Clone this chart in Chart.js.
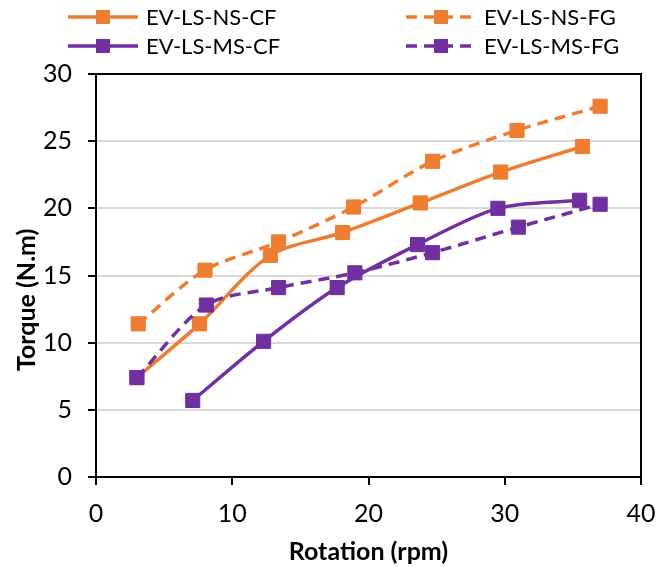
<!DOCTYPE html>
<html lang="en">
<head>
    <meta charset="UTF-8">
    <title>Torque vs Rotation</title>
    <script src="https://cdn.jsdelivr.net/npm/chart.js"></script>
    <style>
        * {
            margin: 0;
            padding: 0;
            box-sizing: border-box;
        }
        body {
            background-color: #ffffff;
            width: 656px;
            height: 567px;
            overflow: hidden;
        }
        .chart-container {
            position: relative;
            width: 656px;
            height: 567px;
        }
    </style>
</head>
<body>
    <div class="chart-container">
        <canvas id="torqueChart"></canvas>
    </div>

    <script>
        // rotation (rpm) and torque (N.m)
        const nsCfRpm = [3.0, 7.6, 12.8, 18.1, 23.8, 29.7, 35.7];
        const nsCfTorque = [7.4, 11.4, 16.5, 18.2, 20.4, 22.7, 24.6];

        const nsFgRpm = [3.1, 8.0, 13.4, 18.9, 24.7, 30.9, 37.0];
        const nsFgTorque = [11.4, 15.4, 17.5, 20.1, 23.5, 25.8, 27.6];

        const msCfRpm = [7.1, 12.3, 17.7, 23.6, 29.5, 35.5];
        const msCfTorque = [5.7, 10.1, 14.1, 17.3, 20.0, 20.6];

        const msFgRpm = [3.0, 8.1, 13.4, 19.0, 24.7, 31.0, 37.0];
        const msFgTorque = [7.4, 12.8, 14.1, 15.2, 16.7, 18.6, 20.3];

        const seriesNames = ['EV-LS-NS-CF', 'EV-LS-NS-FG', 'EV-LS-MS-CF', 'EV-LS-MS-FG'];

        const xTicks = [0, 10, 20, 30, 40];
        const yTicks = [0, 5, 10, 15, 20, 25, 30];

        const ORANGE = '#ED7D31';
        const PURPLE = '#7030A0';
        const FONT = 'Lato, "Open Sans", sans-serif';

        function toPoints(xs, ys) {
            return xs.map((x, i) => ({ x: x, y: ys[i] }));
        }

        function makeSeries(name, xs, ys, color, dashed, order) {
            return {
                label: name,
                data: toPoints(xs, ys),
                borderColor: color,
                backgroundColor: color,
                borderWidth: 3.5,
                borderDash: dashed ? [11, 7] : [],
                tension: 0.3,
                pointStyle: 'rect',
                pointRadius: 10,
                pointHoverRadius: 10,
                pointBackgroundColor: color,
                pointBorderColor: color,
                pointBorderWidth: 1,
                fill: false,
                order: order
            };
        }

        // legend laid out in two fixed columns like the original
        const legendPlugin = {
            id: 'twoColumnLegend',
            afterDraw(chart) {
                const c = chart.ctx;
                const items = chart.data.datasets;
                const cols = [{ x: 68, w: 70 }, { x: 406, w: 70 }];
                const rows = [17, 46];
                c.save();
                items.forEach((ds, i) => {
                    const col = cols[i % 2];
                    const y = rows[Math.floor(i / 2)];
                    c.strokeStyle = ds.borderColor;
                    c.lineWidth = 3.5;
                    c.setLineDash(ds.borderDash);
                    c.beginPath();
                    c.moveTo(col.x, y);
                    c.lineTo(col.x + col.w, y);
                    c.stroke();
                    c.setLineDash([]);
                    c.fillStyle = ds.backgroundColor;
                    c.fillRect(col.x + col.w / 2 - 7, y - 7, 14, 14);
                    c.fillStyle = '#000';
                    c.font = '22px ' + FONT;
                    c.textBaseline = 'middle';
                    c.textAlign = 'left';
                    c.fillText(ds.label, col.x + col.w + 8, y + 1);
                });
                c.restore();
            }
        };

        // black frame around the plot area
        const framePlugin = {
            id: 'frame',
            afterDatasetsDraw(chart) {
                const a = chart.chartArea;
                const c = chart.ctx;
                c.save();
                c.strokeStyle = '#000';
                c.lineWidth = 2;
                c.strokeRect(a.left, a.top, a.right - a.left, a.bottom - a.top);
                c.restore();
            }
        };

        const ctx = document.getElementById('torqueChart').getContext('2d');
        const torqueChart = new Chart(ctx, {
            type: 'line',
            data: {
                datasets: [
                    makeSeries(seriesNames[0], nsCfRpm, nsCfTorque, ORANGE, false, 4),
                    makeSeries(seriesNames[1], nsFgRpm, nsFgTorque, ORANGE, true, 3),
                    makeSeries(seriesNames[2], msCfRpm, msCfTorque, PURPLE, false, 2),
                    makeSeries(seriesNames[3], msFgRpm, msFgTorque, PURPLE, true, 1)
                ]
            },
            options: {
                responsive: true,
                maintainAspectRatio: false,
                animation: false,
                layout: {
                    padding: { top: 74, right: 15, left: 0, bottom: 0 }
                },
                scales: {
                    x: {
                        type: 'linear',
                        min: 0,
                        max: 40,
                        afterBuildTicks: (scale) => { scale.ticks = xTicks.map(v => ({ value: v })); },
                        afterFit: (scale) => {
                            scale.height = 90;
                            scale.paddingRight = 0;
                        },
                        grid: {
                            display: true,
                            drawOnChartArea: false,
                            color: '#000',
                            tickLength: 8,
                            lineWidth: 2
                        },
                        border: { color: '#000', width: 2 },
                        ticks: {
                            color: '#000',
                            font: { family: FONT, size: 25 },
                            padding: 14,
                            maxRotation: 0
                        },
                        title: {
                            display: true,
                            text: 'Rotation (rpm)',
                            color: '#000',
                            font: { family: FONT, size: 25, weight: 'bold' },
                            padding: { top: 0, bottom: 0 }
                        }
                    },
                    y: {
                        min: 0,
                        max: 30,
                        afterBuildTicks: (scale) => { scale.ticks = yTicks.map(v => ({ value: v })); },
                        afterFit: (scale) => { scale.width = 96; },
                        grid: {
                            color: (c) => (c.tick && c.tick.value === 0) ? '#000' : '#d9d9d9',
                            tickColor: '#000',
                            tickLength: 8,
                            lineWidth: 2
                        },
                        border: { color: '#000', width: 2 },
                        ticks: {
                            color: '#000',
                            font: { family: FONT, size: 25 },
                            padding: 16
                        },
                        title: {
                            display: true,
                            text: 'Torque (N.m)        ',
                            color: '#000',
                            font: { family: FONT, size: 25, weight: 'bold' },
                            padding: { top: 12, bottom: 0 }
                        }
                    }
                },
                plugins: {
                    legend: { display: false },
                    tooltip: { enabled: false }
                }
            },
            plugins: [legendPlugin, framePlugin]
        });
    </script>
</body>
</html>
